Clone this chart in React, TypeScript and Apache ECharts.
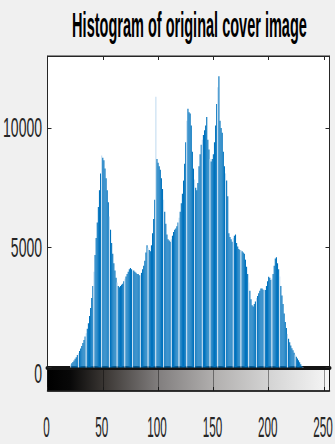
import React, { useEffect, useRef } from "react";
import * as echarts from "echarts";

const titleText = "Histogram of original cover image";
const xTicks = [0, 50, 100, 150, 200, 250];
const yTicks = [0, 5000, 10000];
const xMax = 255;
const yMax = 13000;

// pixel counts per grey level 0..255
const counts: number[] = [
  0, 0, 0, 0, 0, 0, 0, 0, 0, 0,
  0, 0, 0, 0, 0, 0, 0, 0, 0, 0,
  0, 120, 180, 230, 290, 360, 430, 520, 600, 690,
  790, 900, 1020, 1150, 1290, 1430, 1620, 1850, 2150, 2480,
  2900, 3400, 4000, 4700, 5400, 6050, 6700, 7400, 8100, 8850,
  8750, 8650, 8300, 7900, 7400, 6900, 6300, 5750, 5200, 4750,
  4350, 4050, 3750, 3550, 3400, 3350, 3400, 3450, 3500, 3600,
  3700, 3800, 3900, 4000, 4100, 4150, 4100, 4050, 4050, 4000,
  3950, 3900, 3900, 3850, 3850, 3950, 4100, 4250, 4450, 4800,
  5100, 5000, 4900, 4850, 5100, 5600, 6200, 7000, 11300, 8700,
  8550, 8400, 8250, 7900, 7450, 7000, 6500, 6000, 5550, 5350,
  5300, 5250, 5350, 5500, 5650, 5750, 5800, 5900, 6050, 6250,
  6500, 6850, 7250, 7800, 8500, 9400, 10300, 10800, 10650, 10600,
  10100, 9000, 8300, 7850, 7500, 7400, 7700, 8400, 8900, 9300,
  9500, 9700, 9900, 10100, 10450, 9500, 9100, 8700, 8600, 8700,
  8900, 9400, 10100, 11000, 11700, 12150, 10300, 10000, 9800, 9000,
  8400, 8100, 7800, 7150, 5600, 5450, 5350, 5250, 5400, 5500,
  5550, 5200, 5050, 4950, 4900, 4900, 4850, 4800, 4750, 4500,
  4200, 3900, 3550, 3200, 2850, 2600, 2550, 2650, 2750, 2900,
  2980, 3100, 3200, 3300, 3300, 3250, 3250, 3230, 3400, 3600,
  3790, 3750, 3650, 3700, 3900, 4250, 4550, 4600, 4350, 4100,
  3800, 3400, 3000, 2650, 2250, 1900, 1650, 1400, 1200, 1050,
  920, 800, 720, 620, 530, 450, 380, 300, 220, 140,
  60, 20, 0, 0, 0, 0, 0, 0, 0, 0,
  0, 0, 0, 0, 0, 0, 0, 0, 0, 0,
  0, 0, 0, 0, 0, 0,
];

export default function App() {
  const ref = useRef<HTMLDivElement>(null);

  useEffect(() => {
    const el = ref.current;
    if (!el) return;
    const chart = echarts.init(el, null, { renderer: "svg" });
    const font = "'Liberation Sans', Arial, Helvetica, sans-serif";
    const ink = "#262626";
    const blue = "#0072bd";
    const light = "#c4ddf1";

    const data = counts.map((v, i) =>
      i % 7 === 0
        ? { value: [i, v], itemStyle: { color: light } }
        : { value: [i, v] }
    );

    const gridLeft = 47.5;
    const gridWidth = 282;

    chart.setOption({
      animation: false,
      backgroundColor: "#f0f0f0",
      grid: [
        {
          left: gridLeft,
          top: 56,
          width: gridWidth,
          height: 311.5,
          show: true,
          backgroundColor: "#ffffff",
          borderColor: ink,
          borderWidth: 1,
        },
        {
          left: gridLeft,
          top: 368,
          width: gridWidth,
          height: 23,
          show: true,
          backgroundColor: new echarts.graphic.LinearGradient(0, 0, 1, 0, [
            { offset: 0, color: "#000000" },
            { offset: 0.08, color: "#080808" },
            { offset: 0.2, color: "#3a3633" },
            { offset: 0.4, color: "#838080" },
            { offset: 0.6, color: "#b3b1b0" },
            { offset: 0.8, color: "#d6d6d6" },
            { offset: 1, color: "#f6f6f6" },
          ]),
          borderColor: "#1a1a1a",
          borderWidth: 1,
        },
      ],
      xAxis: [
        {
          gridIndex: 0,
          type: "value",
          min: 0,
          max: xMax,
          interval: 50,
          position: "bottom",
          axisLine: { show: true, onZero: false, lineStyle: { color: "#111111", width: 2 } },
          axisTick: { show: false },
          axisLabel: { show: false },
          splitLine: { show: false },
        },
        {
          gridIndex: 0,
          type: "value",
          min: 0,
          max: xMax,
          interval: 50,
          position: "top",
          axisLine: { show: true, onZero: false, lineStyle: { color: ink, width: 1 } },
          axisTick: { show: true, inside: true, length: 4, lineStyle: { color: ink } },
          axisLabel: { show: false },
          splitLine: { show: false },
        },
        {
          gridIndex: 1,
          type: "value",
          min: 0,
          max: xMax,
          interval: 50,
          position: "top",
          axisLine: { show: true, onZero: false, lineStyle: { color: "#141414", width: 4 } },
          axisTick: { show: false },
          axisLabel: { show: false },
          splitLine: { show: true, lineStyle: { color: "rgba(0,0,0,0.4)", width: 1 } },
        },
        {
          gridIndex: 1,
          type: "value",
          min: 0,
          max: xMax,
          interval: 50,
          position: "bottom",
          axisLine: { show: true, onZero: false, lineStyle: { color: "#1a1a1a", width: 1.5 } },
          axisTick: { show: true, inside: true, length: 4, lineStyle: { color: "#1a1a1a" } },
          axisLabel: { show: false },
          splitLine: { show: false },
        },
      ],
      yAxis: [
        {
          gridIndex: 0,
          type: "value",
          min: 0,
          max: yMax,
          interval: 5000,
          position: "left",
          axisLine: { show: true, onZero: false, lineStyle: { color: ink, width: 1 } },
          axisTick: { show: true, inside: true, length: 4, lineStyle: { color: ink } },
          axisLabel: { show: false },
          splitLine: { show: false },
        },
        {
          gridIndex: 0,
          type: "value",
          min: 0,
          max: yMax,
          interval: 5000,
          position: "right",
          axisLine: { show: true, onZero: false, lineStyle: { color: ink, width: 1 } },
          axisTick: { show: true, inside: true, length: 4, lineStyle: { color: ink } },
          axisLabel: { show: false },
          splitLine: { show: false },
        },
        {
          gridIndex: 1,
          type: "value",
          min: 0,
          max: 1,
          show: false,
        },
      ],
      series: [
        {
          type: "bar",
          xAxisIndex: 0,
          yAxisIndex: 0,
          data,
          barWidth: "100%",
          barGap: "0%",
          itemStyle: { color: blue },
          silent: true,
        },
      ],
    });

    // Labels drawn as horizontally condensed text, placed through the axes' own scales
    const toPx = (gi: number, v: [number, number]) =>
      chart.convertToPixel({ gridIndex: gi }, v) as number[];

    const textEl = (
      text: string,
      x: number,
      y: number,
      size: number,
      sx: number,
      align: string,
      weight: string,
      color: string
    ) => ({
      type: "text",
      x,
      y,
      scaleX: sx,
      silent: true,
      style: {
        text,
        fill: color,
        fontSize: size,
        fontFamily: font,
        fontWeight: weight,
        align,
        textAlign: align,
        verticalAlign: "middle",
        textVerticalAlign: "middle",
      },
    });

    const elements: any[] = [];
    const topLeft = toPx(0, [0, yMax]);
    const topRight = toPx(0, [xMax, yMax]);
    elements.push(
      textEl(titleText, (topLeft[0] + topRight[0]) / 2 + 1, topLeft[1] - 31, 35, 0.415, "center", "bold", "#000000")
    );
    yTicks.forEach((t) => {
      const p = toPx(0, [0, t]);
      const dy = t === 0 ? 6.5 : 0;
      elements.push(textEl(String(t), p[0] - 5.5, p[1] + dy, 28, 0.5, "right", "normal", ink));
    });
    xTicks.forEach((t) => {
      const p = toPx(1, [t, 0]);
      elements.push(textEl(String(t), p[0] - 1, p[1] + 35, 30, 0.39, "center", "normal", ink));
    });

    chart.setOption({ graphic: { elements } });

    return () => {
      chart.dispose();
    };
  }, []);

  return (
    <div
      ref={ref}
      style={{ position: "fixed", left: 0, top: 0, width: 335, height: 444, background: "#f0f0f0" }}
    />
  );
}
